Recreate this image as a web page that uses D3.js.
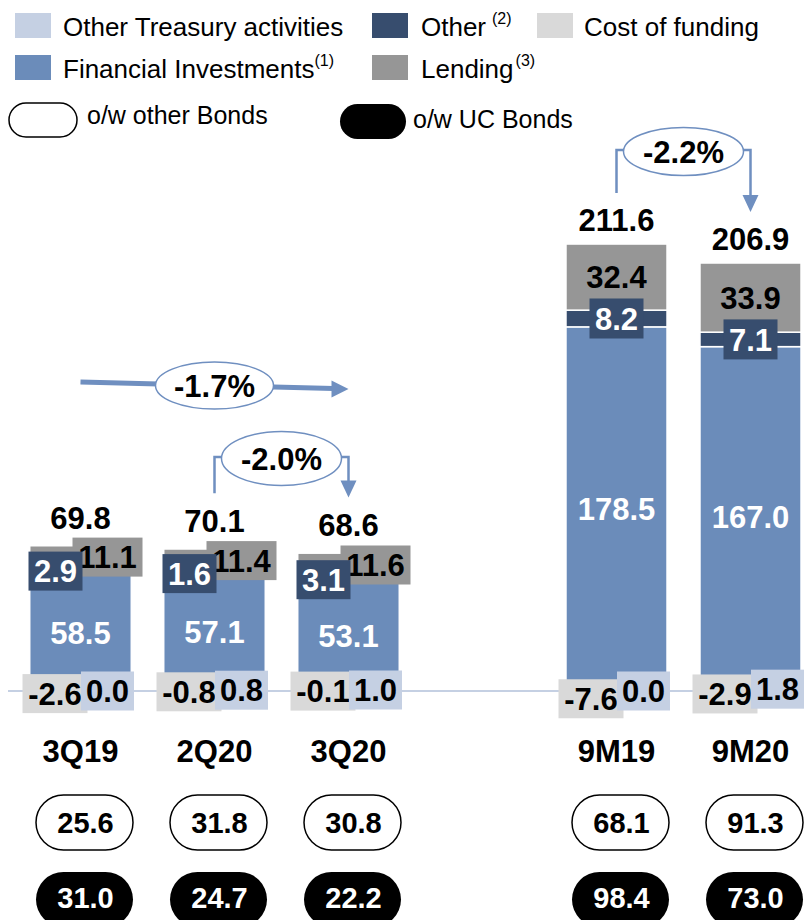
<!DOCTYPE html>
<html>
<head>
<meta charset="utf-8">
<script src="https://cdn.jsdelivr.net/npm/d3@7"></script>
<style>
  html, body { margin: 0; padding: 0; background: #fff; }
  svg { display: block; font-family: "Liberation Sans", Arial, sans-serif; }
</style>
</head>
<body>
<svg id="chart" width="804" height="920"></svg>
<script>
// ---------------- data ----------------
const categories = ["3Q19", "2Q20", "3Q20", "9M19", "9M20"];
const panels = ["Q", "Q", "Q", "M", "M"];
const otherTreasury = [0.0, 0.8, 1.0, 0.0, 1.8];
const financialInvestments = [58.5, 57.1, 53.1, 178.5, 167.0];
const other = [2.9, 1.6, 3.1, 8.2, 7.1];
const lending = [11.1, 11.4, 11.6, 32.4, 33.9];
const costOfFunding = [-2.6, -0.8, -0.1, -7.6, -2.9];
const totals = [69.8, 70.1, 68.6, 211.6, 206.9];
const otherBonds = [25.6, 31.8, 30.8, 68.1, 91.3];
const ucBonds = [31.0, 24.7, 22.2, 98.4, 73.0];
const slots = ["3Q19", "2Q20", "3Q20", "", "9M19", "9M20"];
const legendItems = [
  { name: "Other Treasury activities", sup: "", color: "#c5d0e3" },
  { name: "Financial Investments", sup: "(1)", color: "#6b8cba" },
  { name: "Other", sup: "(2)", color: "#374d6e" },
  { name: "Lending", sup: "(3)", color: "#969696" },
  { name: "Cost of funding", sup: "", color: "#d9d9d9" }
];
const changes = [
  { from: "3Q19", to: "3Q20", via: "2Q20", label: "-1.7%", kind: "line" },
  { from: "2Q20", to: "3Q20", label: "-2.0%", kind: "bracket" },
  { from: "9M19", to: "9M20", label: "-2.2%", kind: "bracket" }
];

// ---------------- setup ----------------
const C = {
  treasury: "#c5d0e3", fin: "#6b8cba", other: "#374d6e",
  lending: "#969696", cost: "#d9d9d9", arrow: "#6f8fc0"
};
const svg = d3.select("#chart");
const base = 691;
const x = d3.scaleBand().domain(slots).range([13.5, 817.5]).paddingInner(0.246).paddingOuter(0.123);
const yQ = d3.scaleLinear().domain([0, 100]).range([base, base - 200]);
const yM = d3.scaleLinear().domain([0, 100]).range([base, base - 204]);
const yOf = i => panels[i] === "Q" ? yQ : yM;
const bw = x.bandwidth();
const cx = c => x(c) + bw / 2;
const BIG = 31;

const rows = categories.map((c, i) => {
  const t0 = 0, t1 = otherTreasury[i];
  const f1 = t1 + financialInvestments[i];
  const o1 = f1 + other[i];
  const l1 = o1 + lending[i];
  return { c, i, segs: [
    { k: "treasury", a: t0, b: t1 },
    { k: "fin", a: t1, b: f1 },
    { k: "other", a: f1, b: o1 },
    { k: "lending", a: o1, b: l1 },
    { k: "cost", a: costOfFunding[i], b: 0 }
  ], top: l1 };
});

// ---------------- legend ----------------
const lg = svg.append("g");
const legendPos = [
  { x: 15, y: 13, tx: 63, by: 36 },   // Other Treasury
  { x: 15, y: 55, tx: 63, by: 78 },   // Financial Investments
  { x: 372, y: 13, tx: 421, by: 36 }, // Other
  { x: 372, y: 55, tx: 421, by: 78 }, // Lending
  { x: 537, y: 13, tx: 584, by: 36 }  // Cost of funding
];
legendItems.forEach((d, j) => {
  const p = legendPos[j];
  lg.append("rect").attr("x", p.x).attr("y", p.y).attr("width", 36).attr("height", 25).attr("fill", d.color);
  const t = lg.append("text").attr("x", p.tx).attr("y", p.by).attr("font-size", 26).attr("fill", "#000");
  t.append("tspan").text(d.name);
  if (d.sup) {
    const dx = d.name === "Other" ? 6 : (d.name === "Lending" ? 2 : 0);
    t.append("tspan").attr("font-size", 16).attr("dx", dx).attr("dy", -12).text(d.sup);
  }
});
lg.append("rect").attr("x", 9).attr("y", 103).attr("width", 68).attr("height", 34).attr("rx", 17)
  .attr("fill", "#fff").attr("stroke", "#000").attr("stroke-width", 1.5);
lg.append("text").attr("x", 87).attr("y", 124).attr("font-size", 25).text("o/w other Bonds");
lg.append("rect").attr("x", 340).attr("y", 104).attr("width", 66).attr("height", 35).attr("rx", 17.5)
  .attr("fill", "#000");
lg.append("text").attr("x", 413).attr("y", 128).attr("font-size", 25).text("o/w UC Bonds");

// ---------------- baseline ----------------
svg.append("line").attr("x1", 8).attr("x2", 804).attr("y1", base).attr("y2", base)
  .attr("stroke", C.treasury).attr("stroke-width", 2);

// ---------------- bars ----------------
const gb = svg.append("g");
rows.forEach(r => {
  const y = yOf(r.i);
  r.segs.forEach(s => {
    const y0 = y(Math.max(s.a, s.b)), y1 = y(Math.min(s.a, s.b));
    gb.append("rect").attr("x", x(r.c)).attr("width", bw)
      .attr("y", y0).attr("height", Math.max(0, y1 - y0))
      .attr("fill", C[s.k]).attr("stroke", "#fff").attr("stroke-width", panels[r.i] === "Q" ? 1 : 1.5);
  });
});

// ---------------- segment labels ----------------
const gl = svg.append("g").attr("font-weight", "bold").attr("font-size", BIG).attr("text-anchor", "middle");
function box(x0, w, yc, h, fill, txt, txtColor) {
  gl.append("rect").attr("x", x0).attr("y", yc - h / 2).attr("width", w).attr("height", h).attr("fill", fill);
  gl.append("text").attr("x", x0 + w / 2).attr("y", yc).attr("dy", "0.36em").attr("fill", txtColor).text(txt);
}
rows.forEach(r => {
  const y = yOf(r.i);
  const c = cx(r.c);
  const q = panels[r.i] === "Q";
  const seg = k => r.segs.find(s => s.k === k);
  const mid = s => (y(s.a) + y(s.b)) / 2;
  // cost of funding then other treasury
  box(c - 58, 65, mid(seg("cost")), 39, C.cost, costOfFunding[r.i].toFixed(1), "#000");
  box(c + 0.5, 53, mid(seg("treasury")), 39, C.treasury, otherTreasury[r.i].toFixed(1), "#000");
  // financial investments
  gl.append("text").attr("x", c).attr("y", mid(seg("fin"))).attr("dy", "0.36em").attr("fill", "#fff")
    .text(financialInvestments[r.i].toFixed(1));
  if (q) {
    box(c - 8, 70, mid(seg("lending")), 39, C.lending, lending[r.i].toFixed(1), "#000");
    box(c - 52, 54, mid(seg("other")), 39, C.other, other[r.i].toFixed(1), "#fff");
  } else {
    gl.append("text").attr("x", c).attr("y", mid(seg("lending"))).attr("dy", "0.36em").attr("fill", "#000")
      .text(lending[r.i].toFixed(1));
    box(c - 27, 54, mid(seg("other")), 40, C.other, other[r.i].toFixed(1), "#fff");
  }
  // total
  gl.append("text").attr("x", c).attr("y", y(r.top) - (q ? 17 : 13)).attr("fill", "#000").text(totals[r.i].toFixed(1));
  // category
  gl.append("text").attr("x", c).attr("y", 762).attr("fill", "#000").text(r.c);
  // bond ovals
  gl.append("rect").attr("x", c + 4 - 48.5).attr("y", 795).attr("width", 97).attr("height", 55).attr("rx", 27.5)
    .attr("fill", "#fff").attr("stroke", "#000").attr("stroke-width", 1.5);
  gl.append("text").attr("x", c + 5).attr("y", 833).attr("font-size", 29).attr("fill", "#000").text(otherBonds[r.i].toFixed(1));
  gl.append("rect").attr("x", c + 4 - 48.5).attr("y", 872).attr("width", 97).attr("height", 55).attr("rx", 27.5)
    .attr("fill", "#000");
  gl.append("text").attr("x", c + 5).attr("y", 908).attr("font-size", 29).attr("fill", "#fff").text(ucBonds[r.i].toFixed(1));
});

// ---------------- change annotations ----------------
const ga = svg.append("g");
const idx = c => categories.indexOf(c);
changes.forEach(ch => {
  const i0 = idx(ch.from), i1 = idx(ch.to);
  const x0 = cx(ch.from), x1 = cx(ch.to);
  const xm = (x0 + x1) / 2;
  if (ch.kind === "line") {
    const xe = cx(ch.via);
    const ya = 382, yb = 389;
    ga.append("line").attr("x1", x0).attr("y1", ya).attr("x2", x1 - 15).attr("y2", yb - 0.4)
      .attr("stroke", C.arrow).attr("stroke-width", 5);
    ga.append("path").attr("d", `M${x1},${yb} L${x1 - 17},${yb - 8.5} L${x1 - 17},${yb + 8.5} Z`).attr("fill", C.arrow);
    ga.append("ellipse").attr("cx", xe).attr("cy", 385.5).attr("rx", 59).attr("ry", 23.5)
      .attr("fill", "#fff").attr("stroke", C.arrow).attr("stroke-width", 1.5);
    ga.append("text").attr("x", xe).attr("y", 385.5).attr("dy", "0.36em").attr("text-anchor", "middle")
      .attr("font-weight", "bold").attr("font-size", BIG).text(ch.label);
  } else {
    const q = panels[i0] === "Q";
    const y = yOf(i0);
    const off = q ? 56 : 51;
    const ys = y(rows[i0].top) - off;
    const yt = y(rows[i1].top) - off;
    const yh = q ? 457 : 150;
    const ry = q ? 27 : 24;
    ga.append("path").attr("d", `M${x0},${ys} V${yh} H${x1} V${yt - 16}`)
      .attr("fill", "none").attr("stroke", C.arrow).attr("stroke-width", 2.5);
    ga.append("path").attr("d", `M${x1},${yt} L${x1 - 8},${yt - 17} L${x1 + 8},${yt - 17} Z`).attr("fill", C.arrow);
    ga.append("ellipse").attr("cx", xm).attr("cy", yh + 1.5).attr("rx", 60).attr("ry", ry)
      .attr("fill", "#fff").attr("stroke", C.arrow).attr("stroke-width", 1.5);
    ga.append("text").attr("x", xm).attr("y", yh + 1.5).attr("dy", "0.36em").attr("text-anchor", "middle")
      .attr("font-weight", "bold").attr("font-size", BIG).text(ch.label);
  }
});
</script>
</body>
</html>
